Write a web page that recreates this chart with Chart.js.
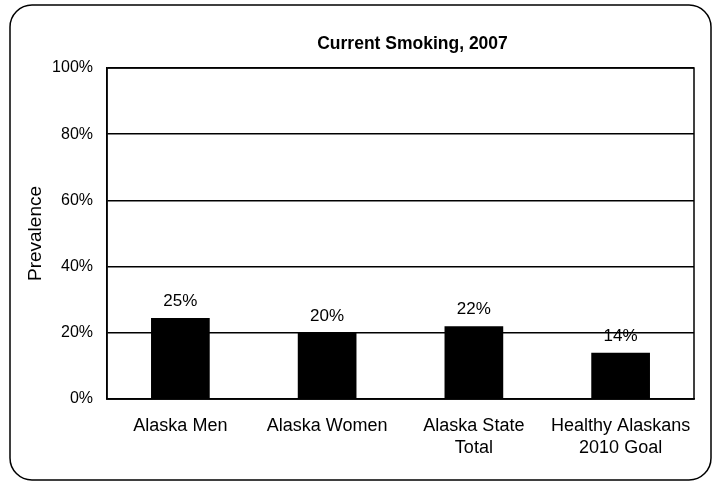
<!DOCTYPE html>
<html>
<head>
<meta charset="utf-8">
<script src="https://cdn.jsdelivr.net/npm/chart.js@4/dist/chart.umd.min.js"></script>
<style>
  html, body { margin: 0; padding: 0; background: #fff; }
  #wrap { width: 713px; height: 481px; }
</style>
</head>
<body>
<div id="wrap"><canvas id="chart"></canvas></div>
<script>
// chart data
const chartTitle = 'Current Smoking, 2007';
const categories = [['Alaska Men'], ['Alaska Women'], ['Alaska State', 'Total'], ['Healthy Alaskans', '2010 Goal']];
const prevalence = [24.5, 20, 22, 14];
const yTicks = [0, 20, 40, 60, 80, 100];

const FONT = '"Liberation Sans", Arial, sans-serif';

// outer rounded frame, plot box and title
const framePlugin = {
    id: 'frame',
    beforeDraw(chart) {
        const ctx = chart.ctx;
        ctx.save();
        ctx.strokeStyle = '#000';
        ctx.lineWidth = 1.5;
        ctx.beginPath();
        ctx.roundRect(10, 5, 701, 475, 22);
        ctx.stroke();
        ctx.restore();
    },
    afterDraw(chart) {
        const a = chart.chartArea;
        const ctx = chart.ctx;
        ctx.save();
        ctx.strokeStyle = '#000';
        ctx.lineWidth = 1.5;
        ctx.strokeRect(a.left, a.top, a.right - a.left, a.bottom - a.top);
        ctx.fillStyle = '#000';
        ctx.font = 'bold 17.5px ' + FONT;
        ctx.textAlign = 'center';
        ctx.textBaseline = 'middle';
        ctx.fillText(chartTitle, (a.left + a.right) / 2 + 12, 44);
        ctx.restore();
    }
};

// value labels above bars
const labelPlugin = {
    id: 'valueLabels',
    afterDatasetsDraw(chart) {
        const ctx = chart.ctx;
        const meta = chart.getDatasetMeta(0);
        ctx.save();
        ctx.fillStyle = '#000';
        ctx.font = '17px ' + FONT;
        ctx.textAlign = 'center';
        ctx.textBaseline = 'bottom';
        meta.data.forEach((bar, i) => {
            ctx.fillText(Math.round(prevalence[i]) + '%', bar.x, bar.y - 8);
        });
        ctx.restore();
    }
};

new Chart(document.getElementById('chart'), {
    type: 'bar',
    data: {
        labels: categories,
        datasets: [{
            data: prevalence,
            backgroundColor: '#000',
            borderWidth: 0,
            barPercentage: 0.4,
            categoryPercentage: 1
        }]
    },
    options: {
        responsive: true,
        maintainAspectRatio: false,
        animation: false,
        layout: { padding: { left: 0, right: 19, top: 68, bottom: 0 } },
        plugins: {
            legend: { display: false },
            tooltip: { enabled: false },
            title: { display: false }
        },
        scales: {
            x: {
                grid: { display: false },
                border: { display: true, color: '#000', width: 1.5 },
                ticks: {
                    color: '#000',
                    maxRotation: 0,
                    autoSkip: false,
                    padding: 8,
                    font: { family: FONT, size: 18, lineHeight: 1.22 }
                },
                afterFit(scale) { scale.height = 82; }
            },
            y: {
                min: 0,
                max: 100,
                afterBuildTicks(scale) { scale.ticks = yTicks.map(v => ({ value: v })); },
                grid: { color: '#000', lineWidth: 1.5, drawTicks: false },
                border: { display: true, color: '#000', width: 1.5 },
                ticks: {
                    color: '#000',
                    padding: 14,
                    font: { family: FONT, size: 16 },
                    callback: v => v + '%'
                },
                title: {
                    display: true,
                    text: 'Prevalence',
                    color: '#000',
                    font: { family: FONT, size: 19 },
                    padding: { top: 24 }
                },
                afterFit(scale) { scale.width = 107; }
            }
        }
    },
    plugins: [framePlugin, labelPlugin]
});
</script>
</body>
</html>
